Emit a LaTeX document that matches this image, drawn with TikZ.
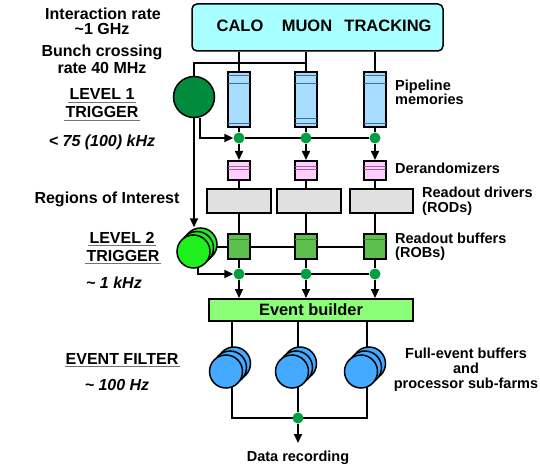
\documentclass[tikz,border=0pt]{standalone}
\usepackage{fontspec}
\setmainfont{Liberation Sans}
\usetikzlibrary{arrows.meta,calc}
\pgfdeclarelayer{bg}
\pgfsetlayers{bg,main}

\definecolor{detcyan}{HTML}{A8FFFF}
\definecolor{pipeblue}{HTML}{A8DDFF}
\definecolor{pipestripe}{HTML}{3A6F99}
\definecolor{derpink}{HTML}{FFCCFF}
\definecolor{derstripe}{HTML}{A0609A}
\definecolor{rodgray}{HTML}{E0E0E0}
\definecolor{robgreen}{HTML}{5EC04C}
\definecolor{robstripe}{HTML}{3C8A2C}
\definecolor{lonegreen}{HTML}{008C3C}
\definecolor{ltwogreen}{HTML}{1EF01E}
\definecolor{dotgreen}{HTML}{00A040}
\definecolor{ebgreen}{HTML}{8CFF78}
\definecolor{efblue}{HTML}{44AAFF}

\tikzset{
  lbl/.style={font=\fontsize{16}{18}\selectfont\bfseries, anchor=base, inner sep=0},
  rate/.style={font=\fontsize{16}{18}\selectfont\bfseries\itshape, anchor=base, inner sep=0},
  rlbl/.style={font=\fontsize{14.5}{17}\selectfont\bfseries, anchor=base west, inner sep=0},
  clbl/.style={font=\fontsize{14.5}{17}\selectfont\bfseries, anchor=base, inner sep=0},
  detlbl/.style={font=\fontsize{16.5}{19}\selectfont\bfseries, anchor=base, inner sep=0},
  underl/.style={draw=black!55, line width=1.1pt},
  box/.style={draw, line width=2pt, inner sep=0},
  pipebox/.style={box, fill=pipeblue, minimum width=22, minimum height=55},
  derbox/.style={box, fill=derpink, minimum width=22, minimum height=19},
  rodbox/.style={box, fill=rodgray, minimum height=24},
  robbox/.style={box, fill=robgreen, minimum width=22, minimum height=25},
  disc/.style={circle, draw, line width=1.5pt, inner sep=0},
  ltwo/.style={disc, fill=ltwogreen, minimum size=33},
  efdisc/.style={disc, fill=efblue, minimum size=33},
  dot/.style={circle, fill=dotgreen, minimum size=11, inner sep=0},
  conn/.style={line width=1.6pt},
  feed/.style={line width=2pt},
  arr/.style={-{Triangle[length=9pt,width=8pt]}},
  stripe/.style={line width=0.9pt}
}

\begin{document}
\begin{tikzpicture}[x=1pt,y=-1pt]
\useasboundingbox (0,0) rectangle (540,473);

% detectors
\node[draw, line width=1.5pt, rounded corners=5pt, fill=detcyan,
      minimum width=251, minimum height=47, inner sep=0] (det) at (317.5,27.5) {};
\node[detlbl] (calo) at (240,32) {CALO};
\node[detlbl] (muon) at (307,32) {MUON};
\node[detlbl] (trk) at (388,32) {TRACKING};

% level 1 trigger processor
\node[disc, fill=lonegreen, minimum size=41] (l1) at (194,97) {};
\coordinate (j1) at (306,63);

% readout columns
\foreach \i/\x in {1/239,2/306,3/375}{
  \node[pipebox] (pipe\i) at (\x,99.5) {};
  \draw[pipestripe, stripe] ($(pipe\i.north west)+(1,4.5)$) -- ($(pipe\i.north east)+(-1,4.5)$);
  \draw[pipestripe, stripe] ($(pipe\i.north west)+(1,12.5)$) -- ($(pipe\i.north east)+(-1,12.5)$);
  \draw[pipestripe, stripe] ($(pipe\i.south west)+(1,-4.5)$) -- ($(pipe\i.south east)+(-1,-4.5)$);
  \node[dot] (d\i) at (\x,138) {};
  \node[derbox] (der\i) at (\x,170.5) {};
  \draw[derstripe, stripe] ($(der\i.north west)+(1,6)$) -- ($(der\i.north east)+(-1,6)$);
  \draw[derstripe, stripe] ($(der\i.north west)+(1,9.5)$) -- ($(der\i.north east)+(-1,9.5)$);
  \node[robbox] (rob\i) at (\x,246.5) {};
  \draw[robstripe, stripe] ($(rob\i.north west)+(1,6)$) -- ($(rob\i.north east)+(-1,6)$);
  \node[dot] (e\i) at (\x,274) {};
}
\draw[pipestripe, stripe] ($(pipe2.south west)+(1,-9.5)$) -- ($(pipe2.south east)+(-1,-9.5)$);

\node[rodbox, minimum width=64] (rod1) at (239,201) {};
\node[rodbox, minimum width=64] (rod2) at (309,201) {};
\node[rodbox, minimum width=63] (rod3) at (381.5,201) {};

% level 2 trigger farm
\node[ltwo] (l2c) at (200.5,244.5) {};
\node[ltwo] (l2b) at (197,248) {};
\node[ltwo] (l2) at (193.5,251.5) {};

% event builder
\node[box, fill=ebgreen, minimum width=204, minimum height=22,
      font=\fontsize{16.4}{19}\selectfont\bfseries] (eb) at (311,310) {Event builder};

% event filter sub-farms
\foreach \i/\x in {1/226,2/292,3/361}{
  \node[efdisc] (ef\i c) at (\x+8,363.5) {};
  \node[efdisc] (ef\i b) at (\x+4,367.5) {};
  \node[efdisc] (ef\i) at (\x,371.5) {};
}
\coordinate (fc1) at (232,418);
\coordinate (fc3) at (367,418);
\node[dot] (fd) at (298,418) {};
\coordinate (outp) at (298,443);

% connectors
\begin{pgfonlayer}{bg}
  \foreach \i in {1,2,3}{
    \draw[conn] (pipe\i.north |- det.south) -- (pipe\i.north);
    \draw[conn] (pipe\i.south) -- (d\i);
    \draw[conn, arr] (d\i) -- (der\i.north);
    \draw[conn] (der\i.south) -- (der\i.south |- rod\i.north);
    \draw[conn] (rob\i.north |- rod\i.south) -- (rob\i.north);
    \draw[conn] (rob\i.south) -- (e\i);
    \draw[conn, arr] (e\i) -- (e\i |- eb.north);
  }
  \draw[feed] (l1.north) |- (j1);
  \draw[feed, arr] (l1.-75) |- (d1);
  \draw[feed] (d1) -- (d3);
  \draw[feed, arr] (l1.south) -- (l1.south |- l2c.north);
  \draw[feed] (l2 |- rob1) -- (rob3);
  \draw[feed, arr] (l2.-75) |- (e1);
  \draw[feed] (e1) -- (e3);
  \draw[conn] (eb.south -| fc1) -- (fc1) -- (fc3) -- (eb.south -| fc3);
  \draw[conn] (eb.south -| fd) -- (fd);
  \draw[conn, arr] (fd) -- (outp);
\end{pgfonlayer}

% left-hand labels
\node[lbl] (ir1) at (103,20) {Interaction rate};
\node[lbl] (ir2) at (102,35) {\textasciitilde1 GHz};
\node[lbl] (bc1) at (102,57) {Bunch crossing};
\node[lbl] (bc2) at (102,74) {rate 40 MHz};
\node[lbl] (lv1a) at (102,100) {LEVEL 1};
\node[lbl] (lv1b) at (102,118) {TRIGGER};
\node[rate] (r1) at (102,147) {< 75 (100) kHz};
\node[lbl] (roi) at (107,203) {Regions of Interest};
\node[lbl] (lv2a) at (122,243) {LEVEL 2};
\node[lbl] (lv2b) at (123,261) {TRIGGER};
\node[rate] (r2) at (114,288) {\textasciitilde{} 1 kHz};
\node[lbl] (efl) at (122,364) {EVENT FILTER};
\node[rate] (r3) at (117,390) {\textasciitilde{} 100 Hz};
\foreach \n in {lv1a,lv1b,lv2a,lv2b,efl}{
  \draw[underl] ($(\n.base west)+(-1,2.5)$) -- ($(\n.base east)+(1,2.5)$);
}

% right-hand labels
\node[rlbl] (pm1) at (395,91) {Pipeline};
\node[rlbl] (pm2) at (395,105) {memories};
\node[rlbl] (drl) at (395,173) {Derandomizers};
\node[rlbl] (rd1) at (422,197) {Readout drivers};
\node[rlbl] (rd2) at (422,212) {(RODs)};
\node[rlbl] (rb1) at (395,243) {Readout buffers};
\node[rlbl] (rb2) at (395,257) {(ROBs)};
\node[clbl] (fe1) at (466,358) {Full-event buffers};
\node[clbl] (fe2) at (466,373) {and};
\node[clbl] (fe3) at (466,388) {processor sub-farms};
\node[clbl] (rec) at (298,461) {Data recording};
\end{tikzpicture}
\end{document}
